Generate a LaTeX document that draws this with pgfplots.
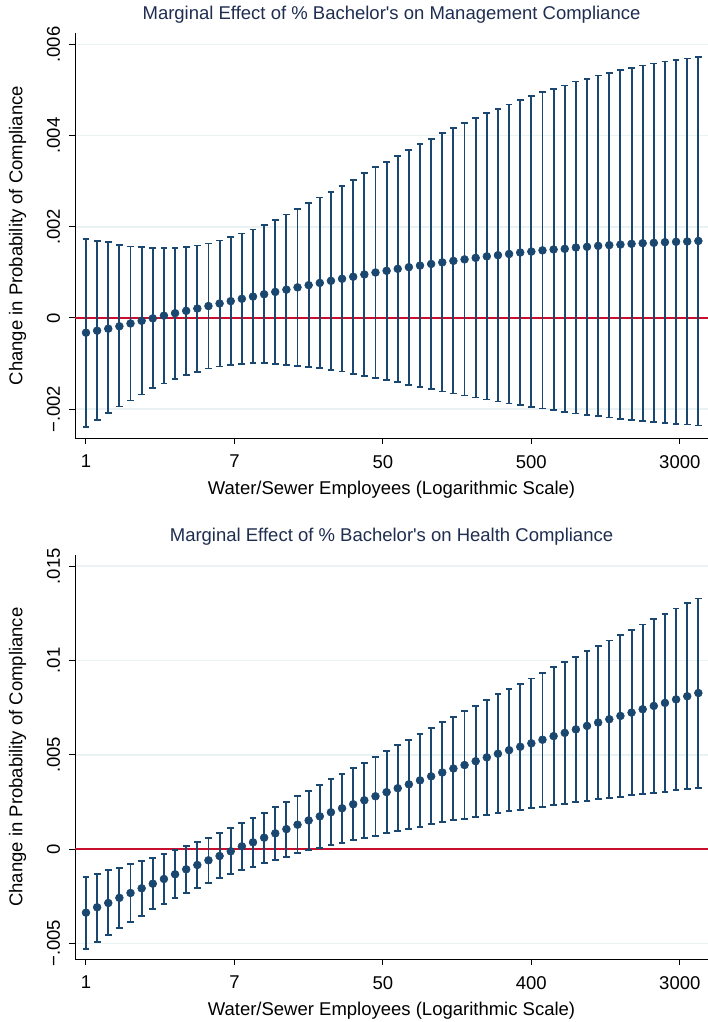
\documentclass[border=0pt]{standalone}
\usepackage{fontspec}
\setmainfont{Liberation Sans}
\usepackage{pgfplots}
\usepackage{pgfplotstable}
\pgfplotsset{compat=1.18}
\definecolor{stnavy}{RGB}{26,71,111}
\definecolor{stred}{RGB}{200,16,46}
\definecolor{stgrid}{RGB}{234,242,243}
\definecolor{sttitle}{RGB}{30,45,80}
\newcommand{\fs}{\fontsize{18.5}{22}\selectfont}

\pgfplotstableread{
x me lo hi
0.00 -0.000323 -0.002389 0.001736
0.15 -0.000279 -0.002242 0.001692
0.30 -0.000235 -0.002088 0.001664
0.45 -0.000182 -0.001941 0.001604
0.60 -0.000120 -0.001809 0.001567
0.75 -0.000062 -0.001677 0.001554
0.90 -0.000008 -0.001539 0.001538
1.05 0.000051 -0.001435 0.001538
1.20 0.000105 -0.001334 0.001538
1.35 0.000157 -0.001253 0.001560
1.50 0.000208 -0.001180 0.001589
1.65 0.000262 -0.001106 0.001633
1.80 0.000318 -0.001062 0.001699
1.95 0.000370 -0.001033 0.001774
2.10 0.000421 -0.001011 0.001853
2.25 0.000470 -0.000996 0.001941
2.40 0.000521 -0.000996 0.002044
2.55 0.000572 -0.001004 0.002154
2.70 0.000622 -0.001026 0.002271
2.85 0.000672 -0.001048 0.002396
3.00 0.000720 -0.001077 0.002527
3.15 0.000769 -0.001099 0.002644
3.30 0.000815 -0.001136 0.002769
3.45 0.000860 -0.001172 0.002901
3.60 0.000905 -0.001231 0.003033
3.75 0.000955 -0.001268 0.003172
3.90 0.000998 -0.001312 0.003304
4.05 0.001035 -0.001363 0.003429
4.20 0.001078 -0.001407 0.003561
4.35 0.001115 -0.001466 0.003686
4.50 0.001150 -0.001510 0.003809
4.65 0.001185 -0.001561 0.003934
4.80 0.001220 -0.001611 0.004051
4.95 0.001253 -0.001655 0.004161
5.10 0.001286 -0.001699 0.004271
5.25 0.001319 -0.001743 0.004381
5.40 0.001352 -0.001787 0.004490
5.55 0.001378 -0.001831 0.004587
5.70 0.001404 -0.001875 0.004682
5.85 0.001436 -0.001912 0.004785
6.00 0.001457 -0.001950 0.004864
6.15 0.001483 -0.001985 0.004952
6.30 0.001503 -0.002022 0.005027
6.45 0.001517 -0.002066 0.005099
6.60 0.001546 -0.002095 0.005187
6.75 0.001561 -0.002125 0.005246
6.90 0.001582 -0.002154 0.005319
7.05 0.001598 -0.002183 0.005378
7.20 0.001611 -0.002213 0.005435
7.35 0.001627 -0.002235 0.005488
7.50 0.001641 -0.002257 0.005539
7.65 0.001648 -0.002286 0.005582
7.80 0.001663 -0.002301 0.005627
7.95 0.001671 -0.002323 0.005664
8.10 0.001678 -0.002337 0.005692
8.25 0.001690 -0.002358 0.005721
}\mgmt

\pgfplotstableread{
x me lo hi
0.00 -0.003377 -0.005286 -0.001485
0.15 -0.003091 -0.004931 -0.001326
0.30 -0.002863 -0.004544 -0.001129
0.45 -0.002590 -0.004189 -0.001007
0.60 -0.002333 -0.003870 -0.000811
0.75 -0.002084 -0.003536 -0.000636
0.90 -0.001840 -0.003197 -0.000461
1.05 -0.001591 -0.002916 -0.000265
1.20 -0.001341 -0.002598 -0.000069
1.35 -0.001076 -0.002333 0.000159
1.50 -0.000848 -0.002068 0.000371
1.65 -0.000599 -0.001819 0.000599
1.80 -0.000371 -0.001553 0.000864
1.95 -0.000122 -0.001341 0.001098
2.10 0.000143 -0.001129 0.001363
2.25 0.000355 -0.000938 0.001628
2.40 0.000600 -0.000726 0.001909
2.55 0.000830 -0.000567 0.002211
2.70 0.001055 -0.000408 0.002492
2.85 0.001290 -0.000228 0.002794
3.00 0.001515 -0.000069 0.003091
3.15 0.001732 0.000069 0.003393
3.30 0.001950 0.000196 0.003696
3.45 0.002162 0.000318 0.003992
3.60 0.002375 0.000461 0.004279
3.75 0.002585 0.000583 0.004576
3.90 0.002798 0.000705 0.004878
4.05 0.003016 0.000832 0.005196
4.20 0.003224 0.000954 0.005498
4.35 0.003430 0.001060 0.005795
4.50 0.003641 0.001182 0.006097
4.65 0.003855 0.001310 0.006400
4.80 0.004060 0.001416 0.006718
4.95 0.004270 0.001522 0.007015
5.10 0.004454 0.001607 0.007301
5.25 0.004658 0.001713 0.007598
5.40 0.004861 0.001819 0.007900
5.55 0.005053 0.001909 0.008202
5.70 0.005243 0.001999 0.008483
5.85 0.005424 0.002084 0.008764
6.00 0.005607 0.002158 0.009050
6.15 0.005797 0.002243 0.009347
6.30 0.005987 0.002333 0.009634
6.45 0.006160 0.002402 0.009915
6.60 0.006345 0.002492 0.010196
6.75 0.006530 0.002561 0.010498
6.90 0.006709 0.002635 0.010779
7.05 0.006885 0.002704 0.011065
7.20 0.007060 0.002773 0.011346
7.35 0.007237 0.002847 0.011627
7.50 0.007415 0.002916 0.011914
7.65 0.007590 0.002985 0.012195
7.80 0.007750 0.003038 0.012460
7.95 0.007937 0.003112 0.012762
8.10 0.008104 0.003165 0.013043
8.25 0.008275 0.003234 0.013292
}\health

\pgfplotsset{
  stata/.style={
    scale only axis, width=633pt,
    xmin=-0.148, xmax=8.38,
    axis x line*=bottom, axis y line*=left,
    axis line style={-, black, line width=1pt},
    tick align=outside, major tick length=5.7pt,
    tick style={black, line width=1pt},
    xtick={0,2,4,6,8},
    scaled ticks=false,
    ymajorgrids, grid style={stgrid, line width=1.5pt},
    ticklabel style={font=\fs},
    yticklabel style={rotate=90, anchor=south, inner sep=9pt},
    xticklabel style={anchor=north, inner sep=3pt, yshift=-8pt},
    xlabel={Water/Sewer Employees (Logarithmic Scale)},
    ylabel={Change in Probability of Compliance},
    xlabel style={font=\fs, at={(axis description cs:0.5,-0.1277)}, anchor=center},
    ylabel style={font=\fs, at={(axis description cs:-0.0908,0.5)}, anchor=center, rotate=0},
    title style={font=\fs, text=sttitle, at={(axis description cs:0.5,1)}, anchor=base, yshift=7.5pt},
  },
  ebars/.style={
    only marks, mark=*, mark size=3.9pt,
    mark options={fill=stnavy, draw=stnavy, line width=0.6pt},
    error bars/.cd, y dir=both, y explicit,
    error bar style={stnavy, line width=1.9pt},
    error mark options={rotate=90, stnavy, mark size=3.4pt, line width=1.8pt},
  },
}

\begin{document}
\begin{tikzpicture}
\path[use as bounding box] (0pt,0pt) rectangle (707pt,1022pt);

\begin{axis}[stata,
  at={(75pt,583.7pt)}, anchor=south west, height=405.3pt,
  ymin=-0.002639, ymax=0.006252,
  ytick={-0.002,0,0.002,0.004,0.006},
  yticklabels={−.002,0,.002,.004,.006},
  xticklabels={1,7,50,500,3000},
  title={Marginal Effect of \% Bachelor\textquotesingle s on Management Compliance},
]
\addplot[stred, line width=1.8pt, forget plot] coordinates {(-0.148,0) (8.38,0)};
\addplot[ebars] table[x=x, y=me,
  y error plus expr=\thisrow{hi}-\thisrow{me},
  y error minus expr=\thisrow{me}-\thisrow{lo}] {\mgmt};
\end{axis}

\begin{axis}[stata,
  at={(75pt,62.7pt)}, anchor=south west, height=404.3pt,
  ymin=-0.005851, ymax=0.015597,
  ytick={-0.005,0,0.005,0.01,0.015},
  yticklabels={−.005,0,.005,.01,.015},
  xticklabels={1,7,50,400,3000},
  title={Marginal Effect of \% Bachelor\textquotesingle s on Health Compliance},
]
\addplot[stred, line width=1.8pt, forget plot] coordinates {(-0.148,0) (8.38,0)};
\addplot[ebars] table[x=x, y=me,
  y error plus expr=\thisrow{hi}-\thisrow{me},
  y error minus expr=\thisrow{me}-\thisrow{lo}] {\health};
\end{axis}
\end{tikzpicture}
\end{document}
